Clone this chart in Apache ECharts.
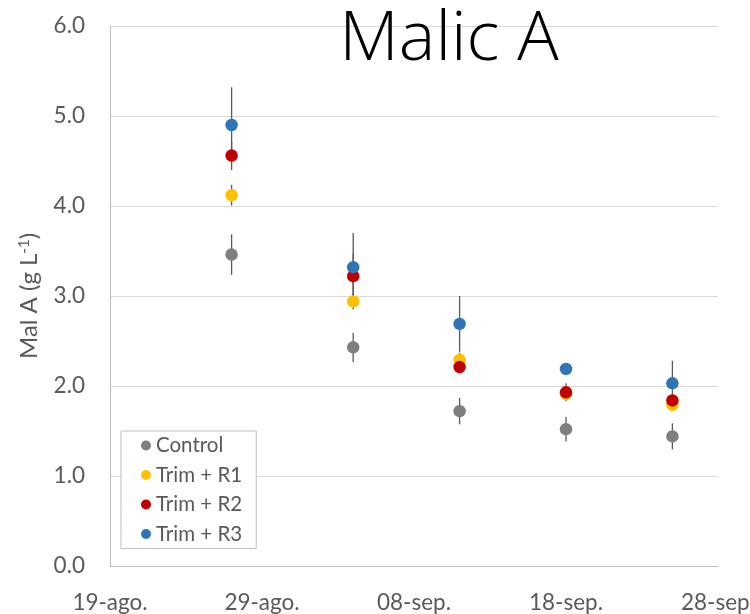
<!DOCTYPE html>
<html>
<head>
<meta charset="utf-8">
<style>
  html, body { margin: 0; padding: 0; background: #ffffff; }
  #chart { width: 750px; height: 614px; }
</style>
<script src="https://cdn.jsdelivr.net/npm/echarts@6/dist/echarts.min.js"></script>
</head>
<body>
<div id="chart"></div>
<script>
// ---- Data ----
const axisStart = '2023-08-19';
const xTickLabels = ['19-ago.', '29-ago.', '08-sep.', '18-sep.', '28-sep.'];
const yTickLabels = ['0.0', '1.0', '2.0', '3.0', '4.0', '5.0', '6.0'];
const sampleDates = ['2023-08-27', '2023-09-04', '2023-09-11', '2023-09-18', '2023-09-25'];
const seriesNames = ['Control', 'Trim + R1', 'Trim + R2', 'Trim + R3'];

const control    = [3.46, 2.43, 1.72, 1.52, 1.44];
const controlErr = [0.225, 0.163, 0.146, 0.136, 0.145];
const trimR1     = [4.12, 2.94, 2.29, 1.91, 1.79];
const trimR1Err  = [0.115, 0.09, 0.08, 0.05, 0.06];
const trimR2     = [4.56, 3.22, 2.21, 1.93, 1.84];
const trimR2Err  = [0.16, 0.25, 0.07, 0.10, 0.05];
const trimR3     = [4.90, 3.32, 2.69, 2.19, 2.03];
const trimR3Err  = [0.42, 0.38, 0.31, 0.06, 0.25];

const colors = ['#7f7f7f', '#ffc000', '#c00000', '#2e75b6'];

// ---- Build ----
function dayOffset(s) { return Math.round((Date.parse(s) - Date.parse(axisStart)) / 86400000); }
const xs = sampleDates.map(dayOffset);
const values = [control, trimR1, trimR2, trimR3];
const errors = [controlErr, trimR1Err, trimR2Err, trimR3Err];

const FONT = 'Lato';
const series = [];
values.forEach((vals, k) => {
  series.push({
    type: 'custom',
    name: seriesNames[k] + ' err',
    z: 1,
    silent: true,
    data: xs.map((x, i) => [x, vals[i] - errors[k][i], vals[i] + errors[k][i]]),
    encode: { x: 0, y: [1, 2] },
    renderItem: function (params, api) {
      const p1 = api.coord([api.value(0), api.value(1)]);
      const p2 = api.coord([api.value(0), api.value(2)]);
      return {
        type: 'line',
        shape: { x1: p1[0], y1: p1[1], x2: p2[0], y2: p2[1] },
        style: { stroke: '#595959', lineWidth: 1.3 }
      };
    }
  });
});
values.forEach((vals, k) => {
  series.push({
    type: 'scatter',
    name: seriesNames[k],
    z: 3,
    symbol: 'circle',
    symbolSize: 12.5,
    itemStyle: { color: colors[k], opacity: 1 },
    data: xs.map((x, i) => [x, vals[i]])
  });
});

const chart = echarts.init(document.getElementById('chart'), null, { renderer: 'canvas' });
chart.setOption({
  animation: false,
  backgroundColor: '#ffffff',
  color: colors,
  grid: { left: 110, right: 32, top: 26, bottom: 48, containLabel: false, outerBoundsMode: 'none' },
  graphic: [{
    type: 'text',
    z: 100,
    style: {
      x: 449, y: 40,
      text: 'Malic A',
      font: '300 69px "Open Sans"',
      fill: '#000000',
      align: 'center',
      verticalAlign: 'middle'
    }
  }],
  legend: {
    orient: 'vertical',
    left: 121, top: 431,
    data: seriesNames,
    icon: 'circle',
    itemWidth: 10, itemHeight: 10,
    itemGap: 8.5,
    itemTextGap: 9,
    padding: [4, 14, 4, 20],
    backgroundColor: '#ffffff',
    borderColor: '#bfbfbf',
    borderWidth: 1,
    borderRadius: 0,
    textStyle: { fontFamily: FONT, fontSize: 20.5, color: '#595959', lineHeight: 20 }
  },
  xAxis: {
    type: 'value',
    min: 0, max: 40, interval: 10,
    axisLine: { show: true, lineStyle: { color: '#bfbfbf', width: 1 } },
    axisTick: { show: false },
    splitLine: { show: false },
    axisLabel: {
      margin: 25,
      showMinLabel: true, showMaxLabel: true,
      hideOverlap: false,
      fontFamily: FONT, fontSize: 22.5, color: '#595959',
      formatter: function (v) { return xTickLabels[Math.round(v / 10)]; }
    }
  },
  yAxis: {
    type: 'value',
    min: 0, max: 6, interval: 1,
    name: 'Mal A (g L{sup|-1})',
    nameLocation: 'middle',
    nameGap: 66,
    nameTextStyle: {
      fontFamily: FONT, fontSize: 24, color: '#595959', lineHeight: 26,
      rich: { sup: { fontFamily: FONT, fontSize: 15, color: '#595959', verticalAlign: 'top', lineHeight: 26 } }
    },
    axisLine: { show: true, lineStyle: { color: '#bfbfbf', width: 1 } },
    axisTick: { show: false },
    splitLine: { show: true, lineStyle: { color: '#d9d9d9', width: 1 } },
    axisLabel: {
      margin: 25,
      fontFamily: FONT, fontSize: 22.5, color: '#595959',
      formatter: function (v) { return yTickLabels[Math.round(v)]; }
    }
  },
  series: series
});
</script>
</body>
</html>
